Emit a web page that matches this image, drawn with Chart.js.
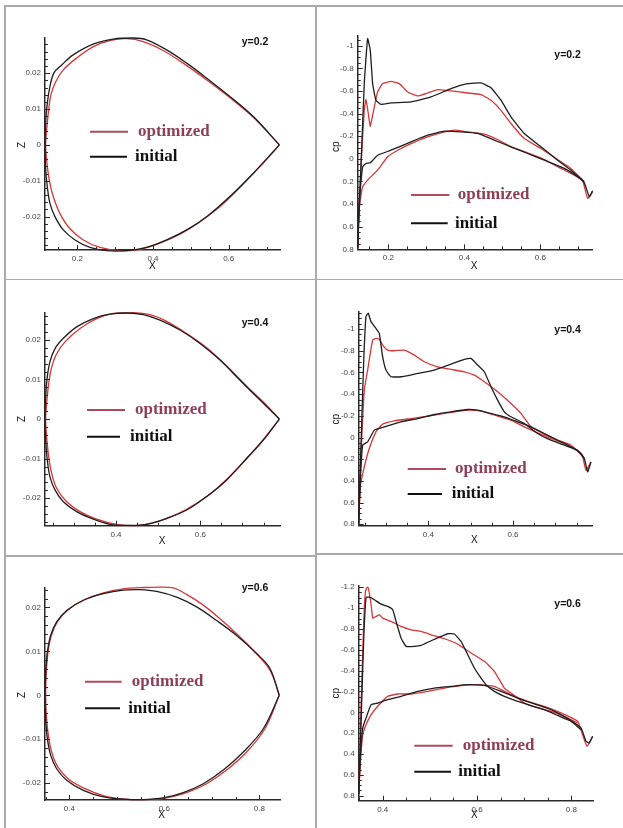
<!DOCTYPE html>
<html><head><meta charset="utf-8">
<script src="https://cdn.jsdelivr.net/npm/chart.js@4/dist/chart.umd.min.js"></script>
<style>
html,body{margin:0;padding:0;background:#fff;}
#wrap{position:relative;width:623px;height:828px;overflow:hidden;background:#fff;}
canvas{position:absolute;}
.b{position:absolute;background:#aaaaaa;z-index:5;}
</style></head><body>
<div id="wrap">
<canvas id="c1" width="311" height="280" style="left:0px;top:0px;width:311px;height:280px"></canvas>
<canvas id="c2" width="312" height="280" style="left:311px;top:0px;width:312px;height:280px"></canvas>
<canvas id="c3" width="311" height="275" style="left:0px;top:280px;width:311px;height:275px"></canvas>
<canvas id="c4" width="312" height="275" style="left:311px;top:280px;width:312px;height:275px"></canvas>
<canvas id="c5" width="311" height="273" style="left:0px;top:555px;width:311px;height:273px"></canvas>
<canvas id="c6" width="312" height="273" style="left:311px;top:555px;width:312px;height:273px"></canvas>
<div class="b" style="left:4px;top:5px;width:619px;height:1.5px"></div>
<div class="b" style="left:4px;top:5px;width:1.5px;height:823px"></div>
<div class="b" style="left:315px;top:5px;width:2px;height:823px"></div>
<div class="b" style="left:4px;top:278.5px;width:619px;height:1.5px"></div>
<div class="b" style="left:4px;top:555px;width:312px;height:1.5px"></div>
<div class="b" style="left:316px;top:553px;width:307px;height:1.5px"></div>
</div>
<script>
// ---------- DATA ----------
const legendNames = ["optimized", "initial"];
const sectionLabels = ["y=0.2", "y=0.4", "y=0.6"];

// tick label values
const xTicks02 = [0.2, 0.4, 0.6];
const xTicks04 = [0.4, 0.6];
const xTicks06 = [0.4, 0.6, 0.8];
const zTicks = [-0.02, -0.01, 0, 0.01, 0.02];
const cpTicks = [-1, -0.8, -0.6, -0.4, -0.2, 0, 0.2, 0.4, 0.6, 0.8];
const cpTicks06 = [-1.2, -1, -0.8, -0.6, -0.4, -0.2, 0, 0.2, 0.4, 0.6, 0.8];

// Section shapes (x, z), closed loop: TE -> upper -> LE -> lower -> TE
const z02Initial = [[0.734,0],[0.665,0.0079],[0.603,0.0135],[0.542,0.0186],[0.489,0.0228],[0.436,0.0265],[0.383,0.0293],[0.348,0.0298],[0.295,0.0295],[0.242,0.0281],[0.189,0.0251],[0.159,0.0223],[0.138,0.020],[0.126,0.0153],[0.119,0.0098],[0.116,0.0051],[0.115,0],
 [0.116,-0.006],[0.1207,-0.0116],[0.1278,-0.0163],[0.141,-0.020],[0.163,-0.0237],[0.194,-0.0265],[0.2335,-0.0286],[0.2775,-0.0295],[0.330,-0.0295],[0.383,-0.0286],[0.436,-0.0265],[0.489,-0.0237],[0.542,-0.020],[0.603,-0.0144],[0.665,-0.0079],[0.734,0]];
const z02Optimized = [[0.734,0],[0.665,0.0077],[0.603,0.0132],[0.542,0.0181],[0.489,0.0221],[0.427,0.0263],[0.374,0.0288],[0.330,0.0296],[0.286,0.0291],[0.2423,0.0274],[0.198,0.0242],[0.163,0.0209],[0.141,0.0172],[0.1295,0.0135],[0.1234,0.0088],[0.119,0.0042],[0.1163,0],
 [0.119,-0.0042],[0.126,-0.0098],[0.1366,-0.0144],[0.154,-0.0191],[0.18,-0.0233],[0.216,-0.0265],[0.26,-0.0286],[0.313,-0.0295],[0.3656,-0.0291],[0.418,-0.0274],[0.471,-0.0249],[0.524,-0.0214],[0.577,-0.0172],[0.63,-0.0118],[0.683,-0.006],[0.734,0]];
const z04Initial = [[0.7875,0],[0.7416,0.0048],[0.6942,0.0098],[0.6467,0.0149],[0.5993,0.0191],[0.5518,0.0225],[0.5044,0.025],[0.4648,0.0264],[0.4253,0.0268],[0.3858,0.0265],[0.3462,0.0254],[0.3067,0.0233],[0.2751,0.0204],[0.2553,0.0178],[0.2434,0.0145],[0.2371,0.0107],[0.2331,0.0056],[0.2316,0],
 [0.2331,-0.0053],[0.2371,-0.0104],[0.2434,-0.0146],[0.2553,-0.0179],[0.2751,-0.0209],[0.3067,-0.0234],[0.3462,-0.0253],[0.3858,-0.0266],[0.4253,-0.0269],[0.4728,-0.0266],[0.5202,-0.0251],[0.5677,-0.023],[0.6151,-0.0196],[0.6626,-0.0154],[0.71,-0.0099],[0.7495,-0.0053],[0.7875,0]];
const z04Optimized = [[0.7875,0],[0.7495,0.0043],[0.71,0.0083],[0.6626,0.0134],[0.6151,0.018],[0.5677,0.0216],[0.5202,0.0247],[0.4807,0.0264],[0.4411,0.0269],[0.3937,0.0267],[0.3541,0.0254],[0.3146,0.0229],[0.279,0.0195],[0.2577,0.0162],[0.2458,0.0124],[0.2395,0.0082],[0.2355,0.004],[0.2331,0],
 [0.2355,-0.0045],[0.2403,-0.0095],[0.2474,-0.0137],[0.2592,-0.0175],[0.283,-0.0209],[0.3146,-0.0234],[0.3541,-0.0253],[0.4016,-0.0266],[0.449,-0.0269],[0.4965,-0.026],[0.5439,-0.0241],[0.5914,-0.0213],[0.6388,-0.0176],[0.6863,-0.0127],[0.7337,-0.0072],[0.7875,0]];
const z06Initial = [[0.8421,0],[0.8225,0.0061],[0.7944,0.0095],[0.7523,0.0136],[0.7102,0.017],[0.6681,0.0201],[0.626,0.0223],[0.5839,0.0236],[0.5488,0.024],[0.5137,0.0239],[0.4716,0.0231],[0.4295,0.0216],[0.3944,0.0193],[0.3733,0.0167],[0.3607,0.0136],[0.3537,0.0098],[0.3502,0.0053],[0.3488,0],
 [0.3502,-0.0053],[0.3537,-0.0098],[0.3607,-0.0136],[0.3733,-0.0167],[0.3944,-0.0193],[0.4295,-0.0216],[0.4716,-0.0231],[0.5137,-0.0236],[0.5558,-0.0237],[0.5979,-0.0233],[0.64,-0.0221],[0.6821,-0.0201],[0.7242,-0.017],[0.7663,-0.0129],[0.8084,-0.0076],[0.8421,0]];
const z06Optimized = [[0.8421,0],[0.8225,0.0057],[0.7874,0.0102],[0.7523,0.014],[0.7172,0.0174],[0.6821,0.0205],[0.646,0.023],[0.6189,0.0244],[0.5909,0.0246],[0.5558,0.0245],[0.5137,0.0242],[0.4716,0.0233],[0.4295,0.0216],[0.3958,0.0193],[0.3747,0.0167],[0.3621,0.0136],[0.3551,0.0098],[0.3516,0.0053],[0.3502,0],
 [0.3516,-0.0045],[0.3558,-0.0091],[0.3628,-0.0129],[0.3747,-0.0161],[0.3979,-0.019],[0.433,-0.0212],[0.4751,-0.0229],[0.5172,-0.0236],[0.5628,-0.0237],[0.6049,-0.0233],[0.647,-0.0221],[0.6891,-0.0201],[0.7312,-0.017],[0.7733,-0.0129],[0.8119,-0.0076],[0.8421,0]];

// Pressure coefficient (x, cp): upper and lower surfaces
const cp02InitialUpper = [[0.1193,0.791],[0.128,0.071],[0.1368,-0.665],[0.1456,-1.062],[0.1526,-0.959],[0.1588,-0.665],[0.1675,-0.518],[0.1807,-0.482],[0.207,-0.494],[0.2596,-0.503],[0.3123,-0.547],[0.3649,-0.621],[0.4088,-0.665],[0.4439,-0.671],[0.4702,-0.629],[0.4965,-0.518],[0.5228,-0.371],[0.5579,-0.224],[0.6018,-0.106],[0.6456,0.012],[0.6807,0.1],[0.7158,0.203]];
const cp02InitialLower = [[0.1193,0.791],[0.1237,0.365],[0.1325,0.071],[0.1412,0.041],[0.1526,0.035],[0.1719,-0.032],[0.207,-0.076],[0.2596,-0.15],[0.3035,-0.209],[0.3474,-0.244],[0.3912,-0.238],[0.4351,-0.224],[0.4789,-0.165],[0.5228,-0.106],[0.5667,-0.047],[0.6105,0.012],[0.6632,0.085],[0.6982,0.159],[0.7158,0.212],[0.729,0.335],[0.7377,0.282]];
const cp02OptimizedUpper = [[0.1193,0.791],[0.128,0.071],[0.1368,-0.429],[0.1412,-0.524],[0.1474,-0.4],[0.1526,-0.288],[0.1632,-0.459],[0.1719,-0.591],[0.1851,-0.665],[0.207,-0.685],[0.2289,-0.665],[0.2509,-0.591],[0.2772,-0.556],[0.3035,-0.582],[0.3298,-0.612],[0.3649,-0.6],[0.4088,-0.582],[0.4439,-0.568],[0.4702,-0.518],[0.4965,-0.429],[0.5228,-0.312],[0.5579,-0.179],[0.6018,-0.091],[0.6456,0.006],[0.6807,0.085],[0.7114,0.188]];
const cp02OptimizedLower = [[0.1193,0.791],[0.1219,0.512],[0.1263,0.365],[0.1325,0.247],[0.1456,0.188],[0.1719,0.1],[0.1982,-0.018],[0.2246,-0.076],[0.2596,-0.135],[0.3035,-0.194],[0.3386,-0.229],[0.3737,-0.253],[0.4088,-0.238],[0.4526,-0.218],[0.4877,-0.171],[0.5228,-0.106],[0.5667,-0.053],[0.6105,0.006],[0.6544,0.085],[0.6895,0.144],[0.7114,0.194],[0.7246,0.35],[0.7377,0.291]];

const cp04InitialUpper = [[0.2355,0.794],[0.241,0.086],[0.2473,-0.683],[0.2528,-1.114],[0.2583,-1.145],[0.2646,-1.068],[0.2764,-1.006],[0.2843,-0.96],[0.2922,-0.745],[0.3,-0.622],[0.3118,-0.56],[0.3355,-0.56],[0.3748,-0.591],[0.4142,-0.622],[0.4535,-0.677],[0.485,-0.72],[0.5007,-0.729],[0.5165,-0.668],[0.5322,-0.606],[0.548,-0.468],[0.5637,-0.345],[0.5795,-0.237],[0.5952,-0.191],[0.6267,-0.129],[0.6582,-0.037],[0.6896,0.025],[0.7211,0.071],[0.7526,0.117],[0.7683,0.194]];
const cp04InitialLower = [[0.2355,0.794],[0.2394,0.394],[0.245,0.071],[0.2568,0.04],[0.2725,-0.068],[0.2961,-0.098],[0.3355,-0.145],[0.3748,-0.175],[0.4142,-0.212],[0.4535,-0.237],[0.4929,-0.258],[0.5165,-0.252],[0.548,-0.222],[0.5795,-0.191],[0.6109,-0.145],[0.6424,-0.098],[0.6739,-0.037],[0.7054,0.025],[0.7369,0.086],[0.7605,0.148],[0.7683,0.194],[0.7762,0.317],[0.7841,0.225]];
const cp04OptimizedUpper = [[0.2355,0.794],[0.241,0.178],[0.2489,-0.437],[0.2568,-0.622],[0.2686,-0.898],[0.2764,-0.914],[0.2843,-0.905],[0.2922,-0.852],[0.304,-0.806],[0.3197,-0.8],[0.3433,-0.806],[0.3669,-0.76],[0.3906,-0.698],[0.422,-0.652],[0.4535,-0.628],[0.485,-0.606],[0.5086,-0.575],[0.5322,-0.514],[0.5637,-0.422],[0.5952,-0.314],[0.6188,-0.222],[0.6424,-0.098],[0.6739,-0.031],[0.7054,0.025],[0.7369,0.071],[0.7605,0.148]];
const cp04OptimizedLower = [[0.2355,0.794],[0.2394,0.455],[0.2489,0.271],[0.2607,0.102],[0.2764,-0.052],[0.2922,-0.123],[0.3197,-0.154],[0.3591,-0.175],[0.3984,-0.197],[0.4378,-0.222],[0.4771,-0.246],[0.5007,-0.252],[0.5322,-0.237],[0.5637,-0.197],[0.5952,-0.16],[0.6267,-0.098],[0.6582,-0.043],[0.6896,0.009],[0.7211,0.055],[0.7526,0.123],[0.7644,0.178],[0.7723,0.302],[0.7841,0.225]];

const cp06InitialUpper = [[0.349,0.789],[0.3541,0.086],[0.3597,-0.712],[0.3647,-1.102],[0.3717,-1.105],[0.3823,-1.08],[0.3965,-1.038],[0.4106,-1.016],[0.4212,-0.984],[0.4283,-0.872],[0.4389,-0.712],[0.4495,-0.633],[0.4671,-0.633],[0.4813,-0.642],[0.5025,-0.687],[0.5237,-0.728],[0.5378,-0.754],[0.552,-0.751],[0.5661,-0.68],[0.5802,-0.553],[0.5943,-0.425],[0.6085,-0.329],[0.6226,-0.249],[0.6367,-0.201],[0.6579,-0.153],[0.6862,-0.105],[0.7145,-0.065],[0.7428,-0.025],[0.771,0.03],[0.7993,0.086],[0.8205,0.166]];
const cp06InitialLower = [[0.349,0.789],[0.3527,0.406],[0.3576,0.15],[0.3647,0.054],[0.3753,-0.073],[0.3894,-0.089],[0.4106,-0.121],[0.4389,-0.153],[0.4742,-0.201],[0.5095,-0.233],[0.5449,-0.249],[0.5802,-0.265],[0.6155,-0.259],[0.6509,-0.201],[0.6862,-0.137],[0.7216,-0.08],[0.7569,-0.025],[0.7922,0.06],[0.8205,0.15],[0.8311,0.278],[0.8382,0.294],[0.8452,0.23]];
const cp06OptimizedUpper = [[0.349,0.789],[0.3541,-0.073],[0.3597,-0.872],[0.3633,-1.16],[0.3668,-1.201],[0.3696,-1.192],[0.3753,-1.032],[0.3788,-0.904],[0.3859,-0.92],[0.3929,-0.936],[0.4,-0.904],[0.4177,-0.872],[0.4389,-0.824],[0.4601,-0.792],[0.4813,-0.776],[0.5025,-0.744],[0.5307,-0.706],[0.559,-0.655],[0.5873,-0.569],[0.6155,-0.489],[0.6367,-0.393],[0.6579,-0.233],[0.6721,-0.185],[0.7004,-0.089],[0.7286,-0.042],[0.7569,-0.01],[0.7852,0.038],[0.8134,0.102]];
const cp06OptimizedLower = [[0.349,0.789],[0.3527,0.47],[0.3576,0.214],[0.3647,0.118],[0.3753,0.022],[0.3894,-0.058],[0.4106,-0.153],[0.4318,-0.176],[0.4601,-0.176],[0.4954,-0.201],[0.5307,-0.233],[0.5661,-0.256],[0.6014,-0.265],[0.6367,-0.249],[0.6721,-0.169],[0.7074,-0.105],[0.7428,-0.058],[0.7781,0.006],[0.8134,0.086],[0.8205,0.17],[0.8332,0.326],[0.8452,0.23]];

// ---------- STYLE ----------
const RED = '#d8363a', BLACK = '#1e1e1e';
const LEG_RED = '#b04a5c', LEG_TEXT = '#8c3f55';

const deco = {
  id: 'deco',
  afterDraw(chart, args, o) {
    const ctx = chart.ctx, xs = chart.scales.x, ys = chart.scales.y, a = chart.chartArea;
    ctx.save();
    ctx.strokeStyle = '#2a2a2a'; ctx.lineWidth = 1;
    const eps = 1e-9;
    const yMin = Math.min(ys.min, ys.max), yMax = Math.max(ys.min, ys.max);
    for (let v = Math.ceil((yMin - eps) / o.yMinor) * o.yMinor; v <= yMax + eps; v += o.yMinor) {
      const major = Math.abs(v / o.yStep - Math.round(v / o.yStep)) < 1e-6;
      const py = Math.round(ys.getPixelForValue(v)) + 0.5;
      ctx.beginPath(); ctx.moveTo(a.left, py); ctx.lineTo(a.left + (major ? 5 : 3), py); ctx.stroke();
    }
    for (let v = Math.ceil((xs.min - eps) / o.xMinor) * o.xMinor; v <= xs.max + eps; v += o.xMinor) {
      const major = Math.abs(v / o.xStep - Math.round(v / o.xStep)) < 1e-6;
      const px = Math.round(xs.getPixelForValue(v)) + 0.5;
      ctx.beginPath(); ctx.moveTo(px, a.bottom); ctx.lineTo(px, a.bottom - (major ? 5 : 3)); ctx.stroke();
    }
    ctx.fillStyle = '#111';
    ctx.font = 'bold 10.5px "Liberation Sans", Arial, sans-serif';
    ctx.textBaseline = 'middle'; ctx.textAlign = 'left';
    ctx.fillText(o.label, o.labelPos[0], o.labelPos[1]);
    ctx.font = '10px "Liberation Sans", Arial, sans-serif';
    ctx.textAlign = 'center';
    ctx.fillText('X', o.xTitle[0], o.xTitle[1]);
    ctx.save();
    ctx.translate(o.yTitle[0], o.yTitle[1]); ctx.rotate(-Math.PI / 2);
    ctx.fillText(o.yTitleText, 0, 0);
    ctx.restore();
    const L = o.legend;
    ctx.lineWidth = 2;
    ctx.strokeStyle = LEG_RED;
    ctx.beginPath(); ctx.moveTo(L.x1, L.y1); ctx.lineTo(L.x2, L.y1); ctx.stroke();
    ctx.strokeStyle = '#111';
    ctx.beginPath(); ctx.moveTo(L.x1, L.y2); ctx.lineTo(L.x2b, L.y2); ctx.stroke();
    ctx.font = 'bold 17px "Liberation Serif", "Times New Roman", serif';
    ctx.textAlign = 'left';
    ctx.fillStyle = LEG_TEXT; ctx.fillText(legendNames[0], L.t1, L.y1);
    ctx.fillStyle = '#111'; ctx.fillText(legendNames[1], L.t2, L.y2);
    ctx.restore();
  }
};

function fmt(v) { return String(+(+v).toFixed(3)); }

function panel(p) {
  const cv = document.getElementById(p.id);
  const W = cv.width, H = cv.height;
  const datasets = p.series.map(s => ({
    data: s.pts.map(q => ({ x: q[0], y: q[1] })),
    borderColor: s.color, backgroundColor: s.color, borderWidth: 1.3,
    showLine: true, pointRadius: 0, tension: s.tension, fill: false, clip: false
  }));
  const font = { family: '"Liberation Sans", Arial, sans-serif', size: 8 };
  new Chart(cv.getContext('2d'), {
    type: 'scatter',
    data: { datasets },
    options: {
      responsive: false, animation: false, devicePixelRatio: 1,
      layout: { padding: { left: 0, top: p.area.top, right: W - p.area.right, bottom: 0 } },
      plugins: { legend: { display: false }, tooltip: { enabled: false },
        deco: { label: p.label, labelPos: p.labelPos, xTitle: p.xTitle, yTitle: p.yTitle, yTitleText: p.yTitleText,
                legend: p.legend, xStep: p.x.step, xMinor: p.x.minor, yStep: p.y.step, yMinor: p.y.minor } },
      scales: {
        x: { type: 'linear', position: 'bottom', min: p.x.min, max: p.x.max,
             grid: { display: false, drawTicks: false }, border: { display: true, color: '#2a2a2a', width: 1.5 },
             ticks: { padding: 4, autoSkip: false, maxRotation: 0, color: '#444', font, callback: fmt },
             afterBuildTicks: s => { s.ticks = p.x.ticks.map(v => ({ value: v })); },
             afterFit: s => { s.height = H - p.area.bottom; } },
        y: { type: 'linear', position: 'left', min: p.y.min, max: p.y.max, reverse: !!p.y.reverse,
             grid: { display: false, drawTicks: false }, border: { display: true, color: '#2a2a2a', width: 1.5 },
             ticks: { padding: 4, autoSkip: false, color: '#444', font, callback: fmt },
             afterBuildTicks: s => { s.ticks = p.y.ticks.map(v => ({ value: v })); },
             afterFit: s => { s.width = p.area.left; } }
      }
    },
    plugins: [deco]
  });
}

const TZ = 0.35, TC = 0.12;
panel({ id: 'c1', area: { left: 45, top: 38, right: 280, bottom: 250 },
  x: { min: 0.1147, max: 0.7355, step: 0.2, minor: 0.05, ticks: xTicks02 }, y: { min: -0.0293, max: 0.0298, step: 0.01, minor: 0.002, ticks: zTicks },
  series: [{ pts: z02Initial, color: BLACK, tension: TZ }, { pts: z02Optimized, color: RED, tension: TZ }],
  label: sectionLabels[0], labelPos: [241.7, 41.7], xTitle: [152.3, 266.7], yTitle: [22.7, 145], yTitleText: 'Z',
  legend: { x1: 90, x2: 128, x2b: 127, y1: 131.7, y2: 156.7, t1: 138, t2: 135 } });
panel({ id: 'c2', area: { left: 46.7, top: 36, right: 281.7, bottom: 249.3 },
  x: { min: 0.1195, max: 0.7379, step: 0.2, minor: 0.05, ticks: xTicks02 }, y: { min: -1.086, max: 0.8, step: 0.2, minor: 0.05, reverse: true, ticks: cpTicks },
  series: [{ pts: cp02InitialUpper, color: BLACK, tension: TC }, { pts: cp02InitialLower, color: BLACK, tension: TC },
           { pts: cp02OptimizedUpper, color: RED, tension: TC }, { pts: cp02OptimizedLower, color: RED, tension: TC }],
  label: sectionLabels[0], labelPos: [243.3, 55], xTitle: [163, 266.5], yTitle: [25, 146.7], yTitleText: 'cp',
  legend: { x1: 100, x2: 138.3, x2b: 136.7, y1: 195, y2: 223.3, t1: 146.7, t2: 144 } });
panel({ id: 'c3', area: { left: 45, top: 33, right: 280, bottom: 245.7 },
  x: { min: 0.2316, max: 0.789, step: 0.2, minor: 0.05, ticks: xTicks04 }, y: { min: -0.02696, max: 0.0268, step: 0.01, minor: 0.002, ticks: zTicks },
  series: [{ pts: z04Initial, color: BLACK, tension: TZ }, { pts: z04Optimized, color: RED, tension: TZ }],
  label: sectionLabels[1], labelPos: [241.7, 43.3], xTitle: [162, 261.7], yTitle: [22.7, 139], yTitleText: 'Z',
  legend: { x1: 87, x2: 125, x2b: 120, y1: 130, y2: 156.7, t1: 135, t2: 130 } });
panel({ id: 'c4', area: { left: 47.7, top: 32, right: 281, bottom: 245.7 },
  x: { min: 0.2357, max: 0.7865, step: 0.2, minor: 0.05, ticks: xTicks04 }, y: { min: -1.157, max: 0.813, step: 0.2, minor: 0.05, reverse: true, ticks: cpTicks },
  series: [{ pts: cp04InitialUpper, color: BLACK, tension: TC }, { pts: cp04InitialLower, color: BLACK, tension: TC },
           { pts: cp04OptimizedUpper, color: RED, tension: TC }, { pts: cp04OptimizedLower, color: RED, tension: TC }],
  label: sectionLabels[1], labelPos: [243.3, 50], xTitle: [163.3, 260], yTitle: [25, 139.3], yTitleText: 'cp',
  legend: { x1: 96.7, x2: 135, x2b: 131, y1: 189, y2: 214, t1: 144, t2: 140.7 } });
panel({ id: 'c5', area: { left: 45, top: 32.3, right: 280, bottom: 245 },
  x: { min: 0.3488, max: 0.8436, step: 0.2, minor: 0.05, ticks: xTicks06 }, y: { min: -0.0238, max: 0.02455, step: 0.01, minor: 0.002, ticks: zTicks },
  series: [{ pts: z06Initial, color: BLACK, tension: TZ }, { pts: z06Optimized, color: RED, tension: TZ }],
  label: sectionLabels[2], labelPos: [241.7, 33.3], xTitle: [161.7, 260], yTitle: [22.7, 140], yTitleText: 'Z',
  legend: { x1: 85, x2: 121.7, x2b: 120, y1: 126.7, y2: 153.3, t1: 131.7, t2: 128.3 } });
panel({ id: 'c6', area: { left: 47.7, top: 30.7, right: 282, bottom: 245.7 },
  x: { min: 0.349, max: 0.846, step: 0.2, minor: 0.05, ticks: xTicks06 }, y: { min: -1.215, max: 0.848, step: 0.2, minor: 0.05, reverse: true, ticks: cpTicks06 },
  series: [{ pts: cp06InitialUpper, color: BLACK, tension: TC }, { pts: cp06InitialLower, color: BLACK, tension: TC },
           { pts: cp06OptimizedUpper, color: RED, tension: TC }, { pts: cp06OptimizedLower, color: RED, tension: TC }],
  label: sectionLabels[2], labelPos: [243.3, 49], xTitle: [163.3, 260], yTitle: [25, 138.3], yTitleText: 'cp',
  legend: { x1: 103.3, x2: 141.7, x2b: 140, y1: 190.7, y2: 216.7, t1: 151.7, t2: 147.3 } });
</script>
</body></html>
